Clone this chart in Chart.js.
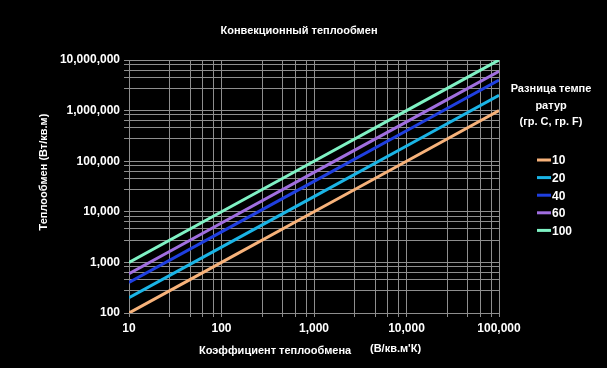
<!DOCTYPE html>
<html>
<head>
<meta charset="utf-8">
<script src="https://cdn.jsdelivr.net/npm/chart.js@4/dist/chart.umd.min.js"></script>
<style>
  html, body { margin: 0; padding: 0; background: #000; }
  canvas { display: block; }
</style>
</head>
<body>
<canvas id="myChart" width="607" height="368"></canvas>
<script>
// data
const coefficients = [10, 100, 1000, 10000, 100000];
const tempLabels = ["10", "20", "40", "60", "100"];
const flow10 = [100, 1000, 10000, 100000, 1000000];
const flow20 = [200, 2000, 20000, 200000, 2000000];
const flow40 = [400, 4000, 40000, 400000, 4000000];
const flow60 = [600, 6000, 60000, 600000, 6000000];
const flow100 = [1000, 10000, 100000, 1000000, 10000000];
const lineColors = ["#f7b27a", "#1ab4e6", "#1f3fe0", "#a06ee0", "#7ff2c4"];

const xMajors = [10, 100, 1000, 10000, 100000];
const yMajors = [100, 1000, 10000, 100000, 1000000, 10000000];
const minorSteps = [2.75, 4.6, 6.3, 8.2];

const font = "'Liberation Sans', Arial, sans-serif";
const gridColor = "#8e8e8e";

// majors plus the minor grid lines between them
function buildTicks(majors) {
  let out = [];
  majors.forEach((m, i) => {
    out.push({ value: m, major: true });
    if (i < majors.length - 1) {
      minorSteps.forEach((s) => out.push({ value: m * s }));
    }
  });
  return out;
}

const seriesList = [flow10, flow20, flow40, flow60, flow100];
const datasets = seriesList.map((s, i) => ({
  label: tempLabels[i],
  data: coefficients.map((x, j) => ({ x: x, y: s[j] })),
  borderColor: lineColors[i],
  backgroundColor: lineColors[i],
  borderWidth: 3,
  pointRadius: 0,
  fill: false
}));

// titles + legend drawn at fixed spots
const textPlugin = {
  id: "texts",
  afterDraw(chart) {
    const ctx = chart.ctx;
    ctx.save();
    ctx.fillStyle = "#fff";
    ctx.textBaseline = "middle";
    ctx.font = "bold 11px " + font;
    ctx.textAlign = "center";
    ctx.fillText("Конвекционный теплообмен", 299, 31);

    ctx.textAlign = "left";
    ctx.fillText("Коэффициент теплообмена", 199, 351);
    ctx.fillText("(В/кв.м'К)", 370, 349);

    ctx.save();
    ctx.translate(44, 172);
    ctx.rotate(-Math.PI / 2);
    ctx.textAlign = "center";
    ctx.fillText("Теплообмен (Вт/кв.м)", 0, 0);
    ctx.restore();

    ctx.textAlign = "center";
    ctx.fillText("Разница темпе", 551, 89);
    ctx.fillText("ратур", 551, 106);
    ctx.fillText("(гр. С, гр. F)", 551, 122);

    ctx.font = "bold 12px " + font;
    ctx.textAlign = "left";
    chart.data.datasets.forEach((ds, i) => {
      const y = 160 + i * 17.6;
      ctx.strokeStyle = ds.borderColor;
      ctx.lineWidth = 3;
      ctx.beginPath();
      ctx.moveTo(537, y);
      ctx.lineTo(551, y);
      ctx.stroke();
      ctx.fillText(ds.label, 552, y + 1);
    });
    ctx.restore();
  }
};

const bgPlugin = {
  id: "bg",
  beforeDraw(chart) {
    const ctx = chart.ctx;
    ctx.save();
    ctx.fillStyle = "#000";
    ctx.fillRect(0, 0, chart.width, chart.height);
    ctx.restore();
  }
};

const ctx = document.getElementById("myChart").getContext("2d");
const myChart = new Chart(ctx, {
  type: "line",
  data: { datasets: datasets },
  plugins: [bgPlugin, textPlugin],
  options: {
    responsive: false,
    animation: false,
    layout: { padding: { left: 0, right: 108, top: 60, bottom: 0 } },
    plugins: {
      legend: { display: false },
      title: { display: false },
      tooltip: { enabled: false }
    },
    scales: {
      x: {
        type: "logarithmic",
        min: 10,
        max: 100000,
        afterBuildTicks: (s) => { s.ticks = buildTicks(xMajors); },
        afterFit: (s) => { s.height = 55; },
        grid: { color: gridColor, lineWidth: 1, tickLength: 4, drawTicks: true },
        border: { color: gridColor },
        ticks: {
          color: "#fff",
          font: { family: font, size: 12, weight: "bold" },
          maxRotation: 0,
          autoSkip: false,
          padding: 4,
          callback: (v) => xMajors.includes(v) ? v.toLocaleString("en-US") : ""
        }
      },
      y: {
        type: "logarithmic",
        min: 100,
        max: 10000000,
        afterBuildTicks: (s) => { s.ticks = buildTicks(yMajors); },
        afterFit: (s) => { s.width = 129; },
        grid: { color: gridColor, lineWidth: 1, tickLength: 5, drawTicks: true },
        border: { color: gridColor },
        ticks: {
          color: "#fff",
          font: { family: font, size: 12, weight: "bold" },
          autoSkip: false,
          padding: 4,
          callback: (v) => yMajors.includes(v) ? v.toLocaleString("en-US") : ""
        }
      }
    }
  }
});
</script>
</body>
</html>
